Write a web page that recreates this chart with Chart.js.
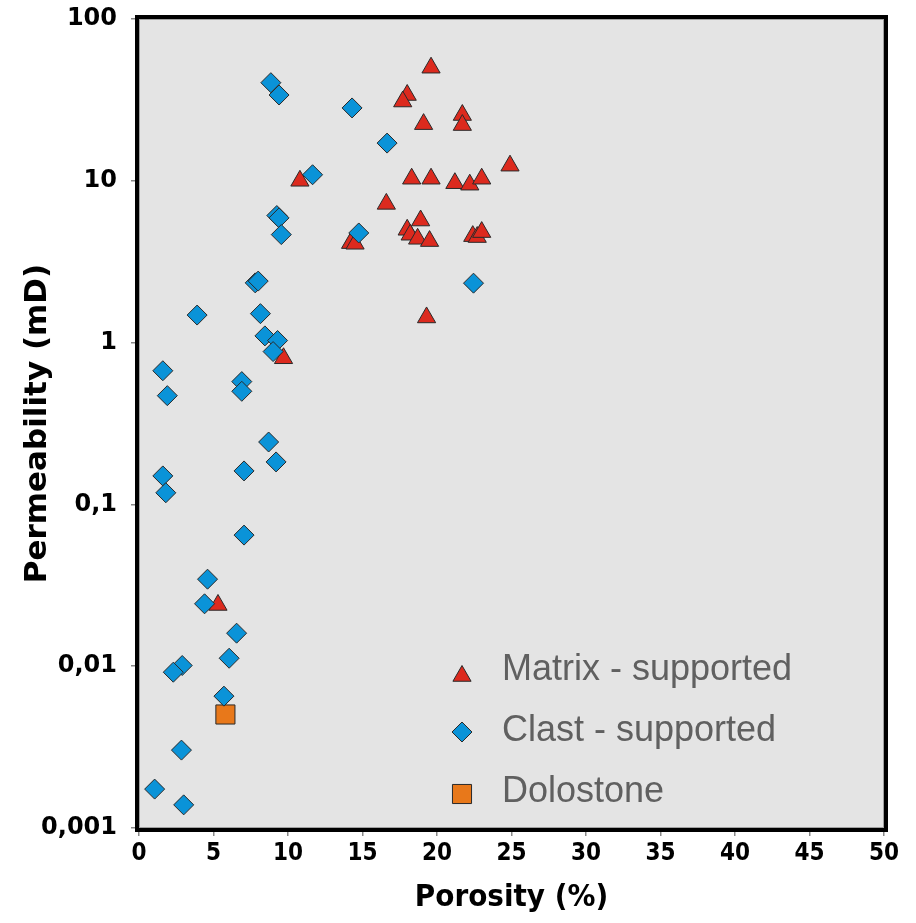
<!DOCTYPE html>
<html>
<head>
<meta charset="utf-8">
<script src="https://cdn.jsdelivr.net/npm/chart.js@4.4.1/dist/chart.umd.min.js"></script>
<style>
  html, body { margin: 0; padding: 0; background: #fff; }
  #wrap { width: 916px; height: 923px; }
</style>
</head>
<body>
<div id="wrap"><canvas id="poroPerm" width="916" height="923"></canvas></div>
<script>
// porosity (%) / permeability (mD)
const matrixPoro = [19.6, 18.0, 17.7, 19.1, 21.7, 21.7, 24.9, 10.8, 18.3, 19.6, 21.2, 22.2, 23.0, 16.6, 18.9, 18.0, 18.2, 18.7, 19.5, 14.2, 14.5, 22.4, 22.7, 23.0, 19.3, 9.7, 5.3]
const matrixPerm = [50, 33.9, 30.9, 22.4, 25.5, 22.1, 12.4, 10.0, 10.3, 10.3, 9.66, 9.46, 10.3, 7.2, 5.68, 4.98, 4.64, 4.38, 4.24, 4.12, 4.08, 4.55, 4.49, 4.82, 1.43, 0.8, 0.0239]

const clastPoro = [8.85, 9.4, 14.3, 16.65, 11.65, 9.25, 9.4, 9.55, 14.75, 7.8, 8.0, 22.45, 3.9, 8.15, 8.45, 9.3, 9.0, 1.6, 1.9, 6.9, 6.9, 8.7, 9.2, 7.05, 1.6, 1.8, 7.05, 4.6, 4.4, 6.55, 6.05, 2.9, 2.3, 5.7, 2.85, 1.05, 3.0]
const clastPerm = [40.4, 33.9, 28.2, 17.1, 10.9, 6.1, 5.9, 4.65, 4.76, 2.34, 2.4, 2.33, 1.48, 1.51, 1.1, 1.03, 0.88, 0.67, 0.47, 0.574, 0.5, 0.243, 0.183, 0.161, 0.15, 0.118, 0.0646, 0.0345, 0.0243, 0.016, 0.0112, 0.0101, 0.00918, 0.00653, 0.00303, 0.00174, 0.00139]

const doloPoro = [5.8]
const doloPerm = [0.00503]

const xTicks = [0, 5, 10, 15, 20, 25, 30, 35, 40, 45, 50]
const yTicks = [0.001, 0.01, 0.1, 1, 10, 100]

const seriesNames = ['Matrix - supported', 'Clast - supported', 'Dolostone']

const toPoints = (xs, ys) => xs.map((x, i) => ({x: x, y: ys[i]}))

// grey plot background + thick frame like the original
const framePlugin = {
  id: 'frame',
  beforeDraw(chart) {
    const {ctx, chartArea: a} = chart
    ctx.save()
    ctx.fillStyle = '#e4e4e4'
    ctx.fillRect(a.left, a.top, a.right - a.left, a.bottom - a.top)
    ctx.restore()
  },
  afterDatasetsDraw(chart) {
    const {ctx, chartArea: a} = chart
    ctx.save()
    ctx.strokeStyle = '#a0a0a0'
    ctx.lineWidth = 1
    ctx.strokeRect(a.left + 0.5, a.top + 0.5, a.right - a.left - 1, a.bottom - a.top - 1)
    ctx.strokeStyle = '#000'
    ctx.lineWidth = 4
    ctx.strokeRect(a.left - 2, a.top - 2, a.right - a.left + 4, a.bottom - a.top + 4)
    ctx.restore()
  }
}

// legend sits inside the plot, bottom right
const legendPlugin = {
  id: 'insideLegend',
  afterDatasetsDraw(chart) {
    const ctx = chart.ctx
    ctx.save()
    ctx.font = '36px "Liberation Sans", Arial, sans-serif'
    ctx.textBaseline = 'alphabetic'
    chart.data.datasets.forEach((ds, i) => {
      const base = 680 + i * 61
      ctx.fillStyle = ds.backgroundColor
      ctx.strokeStyle = ds.borderColor
      ctx.lineWidth = ds.borderWidth
      Chart.helpers.drawPoint(ctx, {pointStyle: ds.pointStyle, radius: ds.pointRadius, rotation: 0, borderWidth: ds.borderWidth}, 462, base - [4, 9, 8][i])
      ctx.fillStyle = '#606060'
      ctx.fillText(ds.label, 502, base)
    })
    ctx.restore()
  }
}

const poroPermChart = document.getElementById('poroPerm').getContext('2d')
const poroPerm = new Chart(poroPermChart, {
  type: 'scatter',
  data: {
    datasets: [{
      label: seriesNames[0],
      data: toPoints(matrixPoro, matrixPerm),
      pointStyle: 'triangle',
      pointRadius: 10.5,
      backgroundColor: '#dc2a1e',
      borderColor: '#2a2a2a',
      borderWidth: 1,
      order: 1
    }, {
      label: seriesNames[1],
      data: toPoints(clastPoro, clastPerm),
      pointStyle: 'rectRot',
      pointRadius: 10,
      backgroundColor: '#0a93d8',
      borderColor: '#2a2a2a',
      borderWidth: 1,
      order: 0
    }, {
      label: seriesNames[2],
      data: toPoints(doloPoro, doloPerm),
      pointStyle: 'rect',
      pointRadius: 13.5,
      backgroundColor: '#e8781a',
      borderColor: '#2a2a2a',
      borderWidth: 1,
      order: 0
    }]
  },
  options: {
    responsive: false,
    animation: false,
    layout: { padding: { top: 19, right: 32, left: 0, bottom: 0 } },
    plugins: {
      legend: { display: false },
      tooltip: { enabled: false }
    },
    scales: {
      x: {
        type: 'linear',
        min: 0,
        max: 50,
        afterBuildTicks: scale => { scale.ticks = xTicks.map(v => ({value: v})) },
        afterFit: scale => { scale.height = 95; scale.paddingLeft = 0; scale.paddingRight = 0 },
        border: { display: false },
        grid: { drawOnChartArea: false, drawTicks: true, tickLength: 8, color: '#888', lineWidth: 1.5 },
        ticks: {
          color: '#000',
          padding: 3,
          maxRotation: 0,
          font: { family: '"DejaVu Sans Condensed", "Liberation Sans Narrow", "DejaVu Sans"', weight: 'bold', size: 24 }
        },
        title: {
          display: true,
          text: 'Porosity (%)',
          color: '#000',
          padding: { top: 0, bottom: 6 },
          font: { family: '"DejaVu Sans Condensed", "Liberation Sans Narrow", "DejaVu Sans"', weight: 'bold', size: 31 }
        }
      },
      y: {
        type: 'logarithmic',
        min: 0.001,
        max: 100,
        afterBuildTicks: scale => { scale.ticks = yTicks.map(v => ({value: v})) },
        afterFit: scale => { scale.width = 139; scale.paddingTop = 0; scale.paddingBottom = 0 },
        border: { display: false },
        grid: { drawOnChartArea: false, drawTicks: true, tickLength: 8, color: '#888', lineWidth: 1.5 },
        ticks: {
          color: '#000',
          padding: 14,
          callback: v => String(v).replace('.', ','),
          font: { family: '"DejaVu Sans"', weight: 'bold', size: 24 }
        },
        title: {
          display: true,
          text: 'Permeability (mD)',
          color: '#000',
          padding: { top: 19, bottom: 0 },
          font: { family: '"DejaVu Sans"', weight: 'bold', size: 31 }
        }
      }
    }
  },
  plugins: [framePlugin, legendPlugin]
})
</script>
</body>
</html>
